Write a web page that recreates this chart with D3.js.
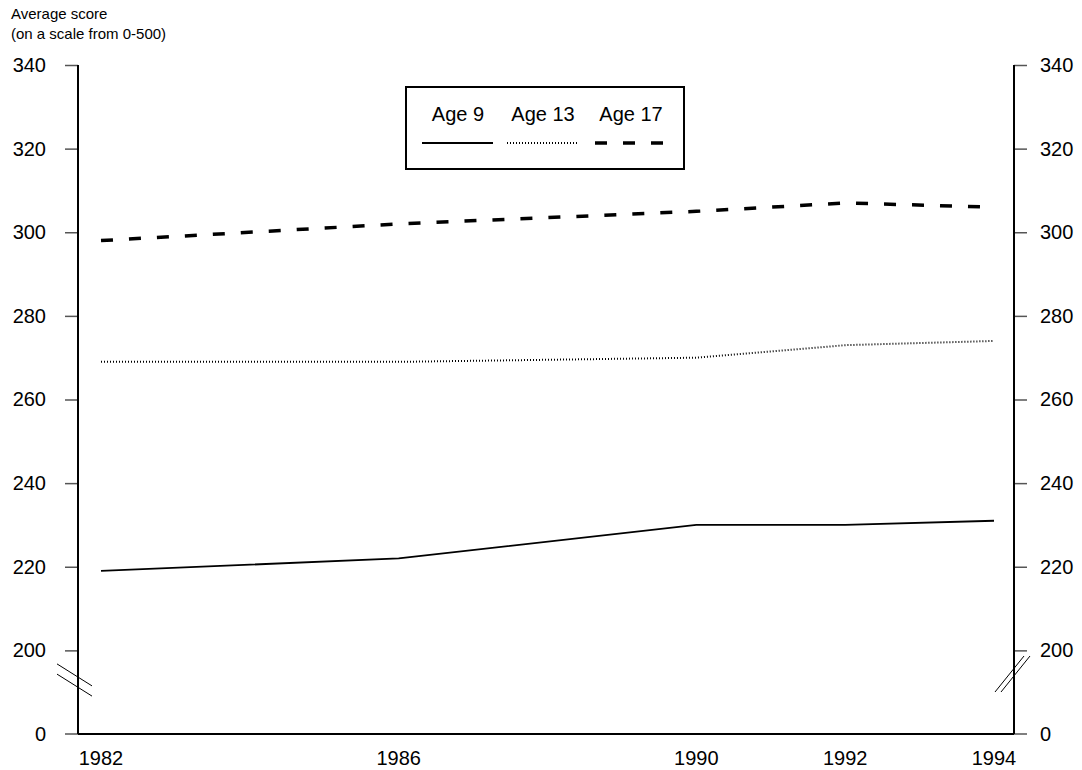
<!DOCTYPE html>
<html>
<head>
<meta charset="utf-8">
<script src="https://cdn.jsdelivr.net/npm/d3@7"></script>
<style>
  body { margin: 0; background: #fff; }
  text { font-family: "Liberation Sans", Arial, sans-serif; fill: #000; }
</style>
</head>
<body>
<div id="chart"></div>
<script>
// NAEP-style trend, average score by age
var years = [1982, 1986, 1990, 1992, 1994];
var age9 = [219, 222, 230, 230, 231];
var age13 = [269, 269, 270, 273, 274];
var age17 = [298, 302, 305, 307, 306];
var yTicks = [200, 220, 240, 260, 280, 300, 320, 340];

var W = 1082, H = 770;
var pLeft = 78, pRight = 1014, pTop = 65, pBottom = 734;

var svg = d3.select("#chart").append("svg")
  .attr("width", W).attr("height", H);

var x = d3.scaleLinear().domain([1982, 1994]).range([101, 994]);
// broken axis: 200..340 linear, 0 sits one step below 200
var yStep = (pBottom - pTop) / 8;
var y = d3.scaleLinear().domain([200, 340]).range([pBottom - yStep, pTop]);
function yPos(v) { return v === 0 ? pBottom : y(v); }

// axes
var leftAxis = d3.axisLeft(y).tickValues(yTicks).tickSize(13).tickPadding(19).tickFormat(d3.format("d"));
var rightAxis = d3.axisRight(y).tickValues(yTicks).tickSize(13).tickPadding(13).tickFormat(d3.format("d"));

function styleAxis(g) {
  g.select(".domain").remove();
  g.selectAll(".tick line").attr("stroke", "#555").attr("stroke-width", 1.5);
  g.selectAll(".tick text").style("font-size", "20px").attr("fill", "#000");
}

svg.append("g").attr("transform", "translate(" + pLeft + ",0)").call(leftAxis).call(styleAxis);
svg.append("g").attr("transform", "translate(" + pRight + ",0)").call(rightAxis).call(styleAxis);

// zero ticks
[[pLeft, -13, "end", -19], [pRight, 13, "start", 13]].forEach(function (s) {
  svg.append("line").attr("x1", s[0]).attr("x2", s[0] + s[1])
    .attr("y1", pBottom).attr("y2", pBottom).attr("stroke", "#555").attr("stroke-width", 1.5);
  svg.append("text").attr("x", s[0] + s[1] + s[3]).attr("y", pBottom)
    .attr("dy", "0.35em").attr("text-anchor", s[2]).style("font-size", "20px").text("0");
});

// frame lines
svg.append("line").attr("x1", pLeft).attr("x2", pLeft).attr("y1", pTop).attr("y2", pBottom)
  .attr("stroke", "#000").attr("stroke-width", 2);
svg.append("line").attr("x1", pRight).attr("x2", pRight).attr("y1", pTop).attr("y2", pBottom)
  .attr("stroke", "#000").attr("stroke-width", 2);
svg.append("line").attr("x1", pLeft).attr("x2", pRight).attr("y1", pBottom).attr("y2", pBottom)
  .attr("stroke", "#000").attr("stroke-width", 2);

// break marks
[-3, 3].forEach(function (o) {
  svg.append("line").attr("x1", 57).attr("y1", 670 + o * 1.7 - 1)
    .attr("x2", 92).attr("y2", 692 + o * 1.7 - 1).attr("stroke", "#000").attr("stroke-width", 1);
  svg.append("line").attr("x1", 998 + o).attr("y1", 692)
    .attr("x2", 1027 + o).attr("y2", 656).attr("stroke", "#000").attr("stroke-width", 1);
});

// x labels
svg.selectAll(".xlab").data(years).enter().append("text")
  .attr("x", function (d) { return x(d); }).attr("y", 765)
  .attr("text-anchor", "middle").style("font-size", "20px")
  .text(function (d) { return d; });

// title
svg.append("text").attr("x", 11).attr("y", 19).style("font-size", "15px").text("Average score");
svg.append("text").attr("x", 11).attr("y", 39).style("font-size", "15px").text("(on a scale from 0-500)");

// series
var series = [
  { name: "Age 9", values: age9, width: 1.8, dash: null },
  { name: "Age 13", values: age13, width: 2, dash: "1,2" },
  { name: "Age 17", values: age17, width: 3.5, dash: "12,16" }
];

var line = d3.line()
  .x(function (d, i) { return x(years[i]); })
  .y(function (d) { return yPos(d); });

series.forEach(function (s) {
  svg.append("path").datum(s.values)
    .attr("d", line).attr("fill", "none").attr("stroke", "#000")
    .attr("stroke-width", s.width).attr("stroke-dasharray", s.dash);
});

// legend
var lg = svg.append("g");
lg.append("rect").attr("x", 406).attr("y", 87).attr("width", 278).attr("height", 82)
  .attr("fill", "#fff").attr("stroke", "#000").attr("stroke-width", 2);
var legX = [458, 543, 631];
series.forEach(function (s, i) {
  lg.append("text").attr("x", legX[i]).attr("y", 121).attr("text-anchor", "middle")
    .style("font-size", "20px").text(s.name);
  lg.append("line").attr("x1", legX[i] - 36).attr("x2", legX[i] + 35)
    .attr("y1", 143).attr("y2", 143).attr("stroke", "#000")
    .attr("stroke-width", s.width).attr("stroke-dasharray", s.dash);
});
</script>
</body>
</html>
